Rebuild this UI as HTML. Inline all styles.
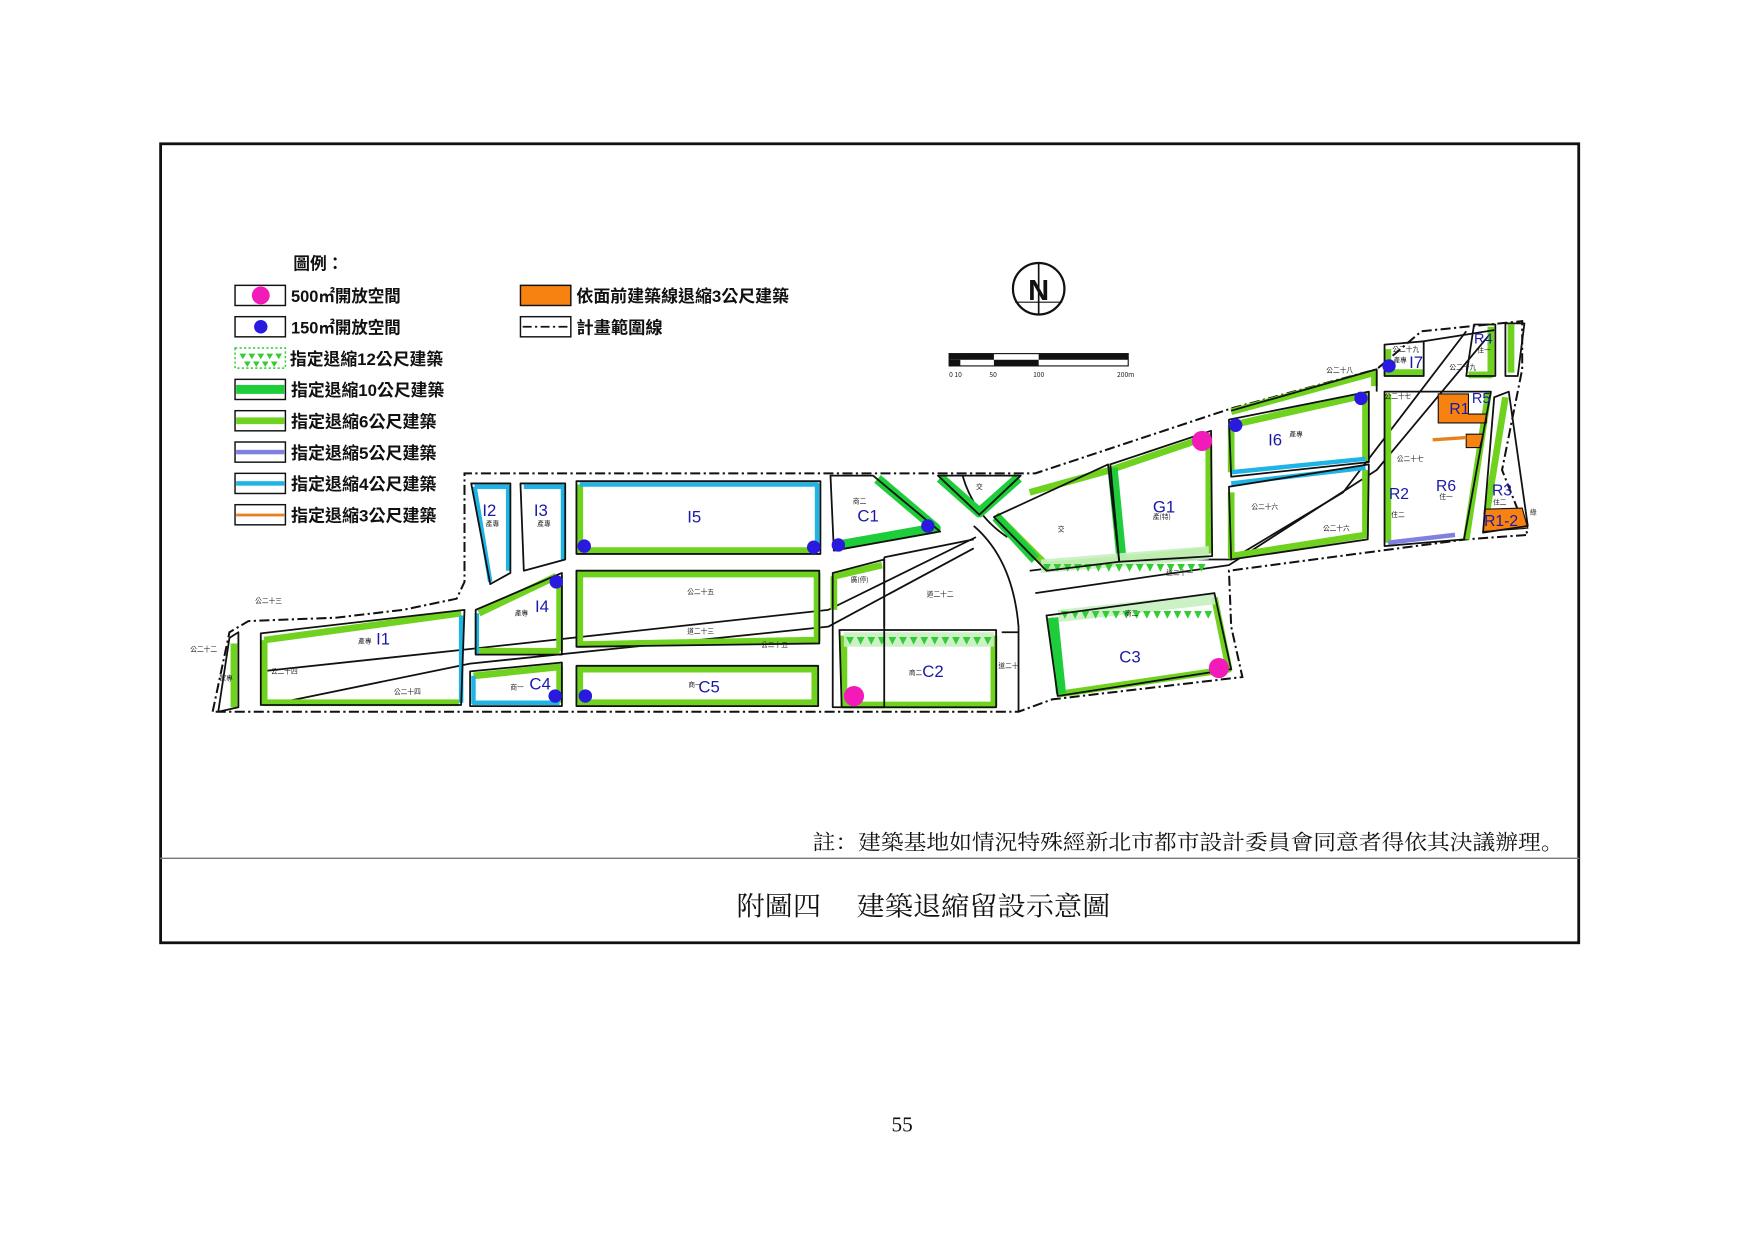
<!DOCTYPE html>
<html><head><meta charset="utf-8"><style>
html,body{margin:0;padding:0;background:#fff;}
svg{display:block}
.lg{font-family:"Liberation Sans","Noto Sans CJK TC",sans-serif;font-size:15px;font-weight:bold;fill:#111}
.bl{font-family:"Liberation Sans",sans-serif;font-size:15px;fill:#1a1aa8}
.sm{font-family:"Noto Sans CJK TC",sans-serif;font-size:6px;fill:#222}
.ser{font-family:"Noto Serif CJK SC","Liberation Serif",serif;fill:#111}
.g{fill:none;stroke:#6fd21e;stroke-width:6;stroke-linejoin:round}
.k{fill:none;stroke:#111;stroke-width:1.6;stroke-linejoin:round}
</style></head><body>
<svg width="1755" height="1241" viewBox="0 0 1568 1109" preserveAspectRatio="none" xmlns="http://www.w3.org/2000/svg">
<rect x="0" y="0" width="1568" height="1109" fill="#fff"/>
<!-- frame -->
<rect x="143.5" y="128.5" width="1267" height="714" fill="none" stroke="#111" stroke-width="2.5"/>
<line x1="143" y1="767" x2="1411" y2="767" stroke="#777" stroke-width="1.3"/>
<text class="ser" x="726" y="759" font-size="19" textLength="671" lengthAdjust="spacingAndGlyphs">註：建築基地如情況特殊經新北市都市設計委員會同意者得依其決議辦理。</text>
<text class="ser" x="658" y="818" font-size="24" textLength="334" lengthAdjust="spacingAndGlyphs" xml:space="preserve">附圖四　 建築退縮留設示意圖</text>
<text x="806" y="1011" font-family="Liberation Serif,serif" font-size="19" text-anchor="middle" fill="#111">55</text>

<!-- legend -->
<text class="lg" x="262" y="241">圖例：</text>
<g stroke="#111" stroke-width="1.3" fill="#fff">
<rect x="210" y="255" width="45" height="18"/><rect x="210" y="283" width="45" height="18"/>
<rect x="210" y="311" width="45" height="18" stroke="#3c3" stroke-dasharray="2 2"/>
<rect x="210" y="339" width="45" height="18"/><rect x="210" y="367" width="45" height="18"/>
<rect x="210" y="395" width="45" height="18"/><rect x="210" y="423" width="45" height="18"/>
<rect x="210" y="451" width="45" height="18"/>
<rect x="465" y="255" width="45" height="18" fill="#f7820f"/><rect x="465" y="283" width="45" height="18"/>
</g>
<circle cx="233" cy="264" r="8" fill="#f21ab8"/>
<circle cx="233" cy="292" r="6" fill="#2a1ae0"/>
<g fill="#3c3"><path d="M214 316h6l-3 5zM222 316h6l-3 5zM230 316h6l-3 5zM238 316h6l-3 5zM246 316h6l-3 5zM218 323h6l-3 5zM226 323h6l-3 5zM234 323h6l-3 5zM242 323h6l-3 5z"/></g>
<rect x="211" y="344" width="43" height="8" fill="#1ecd3a"/>
<rect x="211" y="373" width="43" height="6" fill="#6fd21e"/>
<rect x="211" y="402" width="43" height="4" fill="#8080e0"/>
<rect x="211" y="430" width="43" height="4" fill="#1eb4e6"/>
<rect x="211" y="459" width="43" height="2.5" fill="#e8801e"/>
<line x1="467" y1="292" x2="508" y2="292" stroke="#111" stroke-width="1.5" stroke-dasharray="8 3 2 3"/>
<text class="lg" x="260" y="270" textLength="98" lengthAdjust="spacingAndGlyphs">500㎡開放空間</text>
<text class="lg" x="260" y="298" textLength="98" lengthAdjust="spacingAndGlyphs">150㎡開放空間</text>
<text class="lg" x="259" y="326" textLength="137" lengthAdjust="spacingAndGlyphs">指定退縮12公尺建築</text>
<text class="lg" x="260" y="354" textLength="137" lengthAdjust="spacingAndGlyphs">指定退縮10公尺建築</text>
<text class="lg" x="260" y="382" textLength="130" lengthAdjust="spacingAndGlyphs">指定退縮6公尺建築</text>
<text class="lg" x="260" y="410" textLength="130" lengthAdjust="spacingAndGlyphs">指定退縮5公尺建築</text>
<text class="lg" x="260" y="438" textLength="130" lengthAdjust="spacingAndGlyphs">指定退縮4公尺建築</text>
<text class="lg" x="260" y="466" textLength="130" lengthAdjust="spacingAndGlyphs">指定退縮3公尺建築</text>
<text class="lg" x="515" y="270" textLength="190" lengthAdjust="spacingAndGlyphs">依面前建築線退縮3公尺建築</text>
<text class="lg" x="515" y="298" textLength="77" lengthAdjust="spacingAndGlyphs">計畫範圍線</text>

<!-- north arrow & scale -->
<circle cx="928" cy="258" r="23" fill="none" stroke="#111" stroke-width="2"/>
<text x="928" y="268" font-family="Liberation Sans,sans-serif" font-size="26" font-weight="bold" text-anchor="middle" fill="#111">N</text>
<line x1="928" y1="235" x2="928" y2="281" stroke="#111" stroke-width="1.5"/>
<line x1="907" y1="270" x2="949" y2="270" stroke="#111" stroke-width="1"/>
<rect x="848" y="316" width="160" height="11" fill="#fff" stroke="#111" stroke-width="1"/>
<rect x="848" y="316" width="40" height="5.5" fill="#111"/><rect x="928" y="316" width="80" height="5.5" fill="#111"/>
<rect x="848" y="321.5" width="10" height="5.5" fill="#111"/><rect x="888" y="321.5" width="40" height="5.5" fill="#111"/>
<g class="sm"><text x="848" y="337">0 10</text><text x="884" y="337">50</text><text x="923" y="337">100</text><text x="998" y="337">200m</text></g>

<!-- boundary -->
<path d="M190 636 L205 565 L222 555 L300 552 L360 545 L408 535 L415 520 L415 423 L925 423 L1100 365 L1230 330 L1270 296 L1360 287 L1360 330 L1342 420 L1365 478 L1310 482 L1098 510 L1100 560 L1110 605 L940 625 L910 636 Z" fill="none" stroke="#111" stroke-width="1.8" stroke-dasharray="9 3 2 3"/>

<!-- roads -->
<g class="k" stroke-width="1.3">
<path d="M233 600 L420 580 L740 545 L872 480"/>
<path d="M240 630 L420 593 L740 560 L870 490"/>
<path d="M870 470 Q905 500 910 560 L910 636"/>
<path d="M860 425 Q870 460 900 480"/>
<path d="M920 510 L1000 500 L1100 500 L1200 440 L1310 296"/>
<path d="M925 530 L1098 505 L1230 420 L1330 300"/>
<path d="M790 498 L790 560 M790 498 L870 482 M895 565 L910 565"/>
</g>

<!-- blocks: green setbacks -->
<g class="g">
<path d="M236 572 L412 548 M236 572 L236 628 L410 628"/>
<path d="M428 548 L497 515 M428 582 L500 582 M500 515 L500 582"/>
<path d="M518 433 L518 492 L730 492"/>
<path d="M518 513 L730 513 L730 572 L518 576 Z"/>
<path d="M423 604 L500 596 L500 628"/>
<path d="M518 598 L728 598 L728 628 L518 628 Z"/>
<path d="M754 568 L754 630 L888 630 L888 568"/>
<path d="M890 460 L935 505 M935 505 L1000 500 L1080 492 L1080 390 L992 420 L920 440"/>
<path d="M1100 380 L1220 353 L1220 412 M1100 380 L1100 422"/>
<path d="M1100 440 L1100 497 L1220 478 L1220 420"/>
<path d="M938 552 L948 620 L1098 598 L1085 534"/>
<path d="M1100 368 L1228 333 L1228 345"/>
<path d="M1240 312 L1240 333 L1272 333"/>
<path d="M1240 352 L1240 485 M1330 350 L1310 482"/>
<path d="M1332 292 L1332 335 L1312 335"/>
<path d="M1350 290 L1350 333"/>
<path d="M1345 355 L1328 460"/>
<path d="M209 575 L209 632"/>
<path d="M745 515 L788 505 M745 515 L745 545"/>
</g>
<g fill="none" stroke="#1ecd3a" stroke-width="9" stroke-linejoin="round">
<path d="M746 488 L836 472 L784 428"/>
<path d="M840 427 L875 458 L910 427"/>
<path d="M890 462 L925 500"/>
<path d="M994 418 L1002 500"/>
<path d="M941 552 L948 620"/>
</g>
<g fill="none" stroke="#1eb4e6" stroke-width="4" stroke-linejoin="round">
<path d="M424 435 L454 435 L454 510 M424 435 L438 520"/>
<path d="M468 435 L503 435 L503 500"/>
<path d="M518 433 L730 433 L730 492"/>
<path d="M412 550 L412 628 M423 604 L423 628 L500 628 M426 548 L426 585"/>
<path d="M1100 422 L1220 410 M1100 432 L1220 418"/>
</g>
<path d="M1240 485 L1300 478" stroke="#8080e0" stroke-width="4" fill="none"/>
<!-- 12m patterned strips -->
<g fill="#c8f0c0" opacity="0.9"><path d="M754 565 L888 565 L888 578 L754 578Z"/><path d="M930 500 L1080 488 L1080 500 L930 512Z"/><path d="M945 545 L1085 530 L1086 540 L946 556Z"/></g>
<g fill="#3c3" font-size="9" font-family="DejaVu Sans,sans-serif">
<text x="756" y="575" textLength="130" lengthAdjust="spacing">▼▼▼▼▼▼▼▼▼▼▼▼▼▼</text>
<text x="932" y="510" textLength="145" lengthAdjust="spacing">▼▼▼▼▼▼▼▼▼▼▼▼▼▼▼▼</text>
<text x="948" y="552" textLength="135" lengthAdjust="spacing">▼▼▼▼▼▼▼▼▼▼▼▼▼▼▼</text>
</g>
<!-- orange -->
<path d="M1285 352 L1312 352 L1312 370 L1328 370 L1328 378 L1285 378Z" fill="#f7820f" stroke="#111" stroke-width="1"/>
<path d="M1310 388 L1325 388 L1322 400 L1310 400Z" fill="#f7820f" stroke="#111" stroke-width="1"/>
<path d="M1327 455 L1360 454 L1365 472 L1325 475Z" fill="#f7820f" stroke="#111" stroke-width="1"/>
<line x1="1280" y1="393" x2="1310" y2="391" stroke="#e8801e" stroke-width="3"/>

<!-- black outlines -->
<g class="k">
<path d="M233 566 L415 545 L412 630 L233 630 Z"/>
<path d="M421 432 L456 432 L456 512 L438 522 Z"/>
<path d="M465 432 L505 432 L505 500 L468 510 Z"/>
<path d="M515 430 L733 430 L733 495 L515 495 Z"/>
<path d="M742 425 L780 425 L840 475 L745 492 Z"/>
<path d="M838 425 L912 425 L875 460 Z"/>
<path d="M425 545 L502 512 L502 585 L425 585 Z"/>
<path d="M515 510 L732 510 L732 575 L515 578 Z"/>
<path d="M420 600 L502 592 L502 631 L420 631 Z"/>
<path d="M515 595 L731 595 L731 631 L515 631 Z"/>
<path d="M744 512 L790 500 L790 632 L744 632 Z"/>
<path d="M750 563 L890 563 L890 632 L752 632 Z"/>
<path d="M888 462 L990 415 L1000 502 L935 510 Z"/>
<path d="M992 415 L1082 385 L1083 497 L1000 502 Z"/>
<path d="M1098 375 L1223 350 L1223 413 L1100 426 Z"/>
<path d="M1098 435 L1223 415 L1222 482 L1100 500 Z"/>
<path d="M935 550 L1085 530 L1100 598 L945 622 Z"/>
<path d="M1100 367 L1230 330 L1230 350"/>
<path d="M1237 308 L1272 305 L1272 336 L1237 336 Z"/>
<path d="M1317 290 L1336 290 L1336 336 L1310 336 Z"/>
<path d="M1345 289 L1362 289 L1356 336 L1345 336 Z"/>
<path d="M1237 350 L1332 350 L1308 482 L1237 488 Z"/>
<path d="M1335 355 L1348 350 L1365 470 L1325 476 Z"/>
<path d="M205 570 L213 565 L213 632 L195 636 Z"/>
<path d="M1272 305 L1335 295"/>
</g>

<!-- dots -->
<g fill="#2a1ae0">
<circle cx="522" cy="488" r="6"/><circle cx="727" cy="489" r="6"/><circle cx="749" cy="487" r="6"/><circle cx="829" cy="470" r="6"/>
<circle cx="497" cy="520" r="6"/><circle cx="496" cy="622" r="6"/><circle cx="523" cy="622" r="6"/>
<circle cx="1104" cy="380" r="6"/><circle cx="1216" cy="356" r="6"/><circle cx="1241" cy="327" r="6"/>
</g>
<g fill="#f21ab8"><circle cx="1074" cy="394" r="9"/><circle cx="1089" cy="597" r="9"/><circle cx="763" cy="622" r="9"/></g>

<!-- block labels -->
<g class="bl">
<text x="336" y="576">I1</text><text x="431" y="461">I2</text><text x="477" y="461">I3</text>
<text x="614" y="467">I5</text><text x="766" y="466">C1</text><text x="478" y="547">I4</text>
<text x="473" y="616">C4</text><text x="624" y="619">C5</text><text x="824" y="605">C2</text>
<text x="1000" y="592">C3</text><text x="1030" y="458">G1</text><text x="1133" y="398">I6</text>
<text x="1259" y="329">I7</text><text x="1317" y="307" font-size="13">R4</text><text x="1315" y="360" font-size="13">R5</text>
<text x="1295" y="370" font-size="14">R1</text><text x="1241" y="446" font-size="14">R2</text><text x="1283" y="439" font-size="14">R6</text>
<text x="1333" y="443" font-size="14">R3</text><text x="1326" y="470" font-size="14">R1-2</text>
</g>
<g class="sm">
<text x="320" y="575">產專</text><text x="434" y="470">產專</text><text x="480" y="470">產專</text><text x="460" y="550">產專</text>
<text x="614" y="531">公二十五</text><text x="614" y="566">道二十三</text><text x="680" y="578">公二十五</text>
<text x="242" y="602">公二十四</text><text x="352" y="620">公二十四</text><text x="456" y="616">商一</text><text x="615" y="614">商一</text>
<text x="812" y="603">商二</text><text x="828" y="533">道二十二</text><text x="760" y="520">廣(停)</text><text x="762" y="450">商二</text>
<text x="945" y="475">交</text><text x="872" y="437">交</text><text x="1030" y="464">產(特)</text><text x="1005" y="550">商二</text>
<text x="1118" y="455">公二十六</text><text x="1182" y="474">公二十六</text><text x="1152" y="390">產專</text><text x="1042" y="514">道二十一</text>
<text x="1185" y="333">公二十八</text><text x="1248" y="412">公二十七</text><text x="1237" y="356">公二十七</text><text x="1295" y="330">公二十九</text>
<text x="1244" y="314">公二十九</text><text x="1245" y="324">產專</text><text x="1243" y="462">住二</text><text x="1286" y="446">住一</text>
<text x="1334" y="451">住二</text><text x="1320" y="315">住一</text><text x="228" y="539">公二十三</text><text x="170" y="582">公二十二</text>
<text x="196" y="608">家專</text><text x="892" y="597">道二十</text><text x="1367" y="460">綠</text>
</g>
</svg>
</body></html>
